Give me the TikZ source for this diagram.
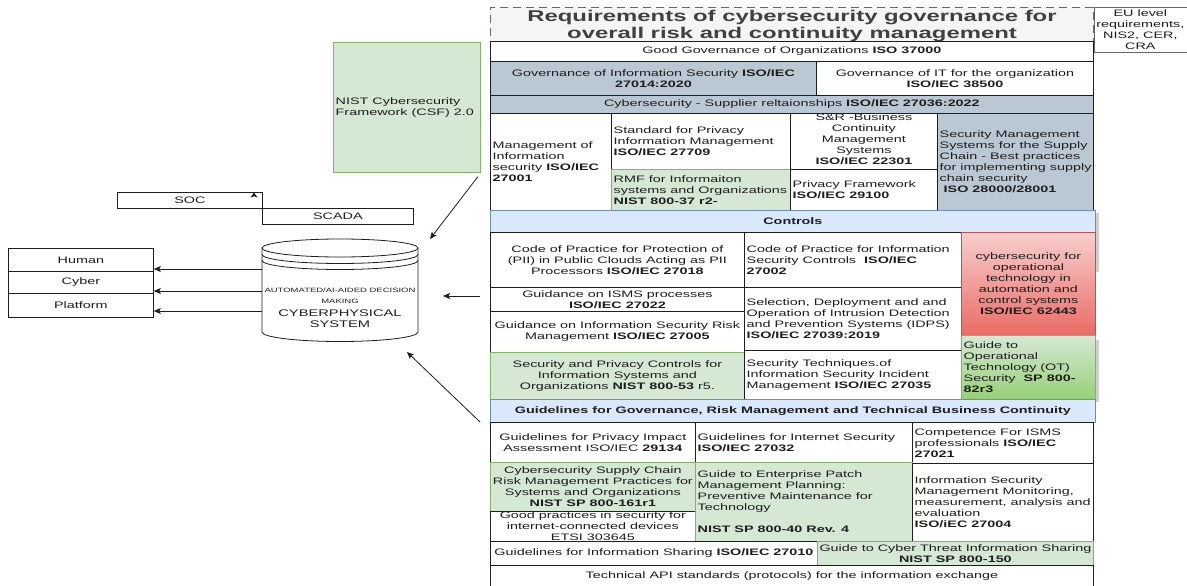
\documentclass[tikz,border=0pt]{standalone}
\usepackage{fontspec}
\setmainfont[FakeStretch=1.53]{Liberation Sans}
\usetikzlibrary{arrows.meta,calc}
\definecolor{gb}{HTML}{BAC8D3}
\definecolor{gr}{HTML}{D5E8D4}
\definecolor{grb}{HTML}{82B366}
\definecolor{lb}{HTML}{DAE8FC}
\definecolor{lbb}{HTML}{6C8EBF}
\definecolor{rdA}{HTML}{F8CECC}
\definecolor{rdB}{HTML}{EA6B66}
\definecolor{rdb}{HTML}{B85450}
\definecolor{grB}{HTML}{97D077}
\definecolor{tg}{HTML}{F5F5F5}
\definecolor{tgb}{HTML}{666666}
\definecolor{ink}{HTML}{1E1E1E}
\definecolor{shd}{HTML}{CFCFCF}
\newcommand\boxat[6]{%
  \pgfmathsetmacro\cw{#5-#3}\pgfmathsetmacro\ch{#6-#4}%
  \node[#2,anchor=north west,minimum width=\cw pt,minimum height=\ch pt,inner sep=0pt] (#1) at (#3,#4) {};}
\newcommand\cellc[8]{\boxat{#1}{#2}{#4}{#5}{#6}{#7}\node[txt,align=center,#3] (#1t) at (#1.center) {#8};}
\newcommand\celll[8]{\boxat{#1}{#2}{#4}{#5}{#6}{#7}\node[txt,align=left,anchor=west,#3] (#1t) at ([xshift=2.5pt]#1.west) {#8};}
\tikzset{
  txt/.style={font=\fontsize{9.4}{11}\selectfont,text=ink,inner sep=0pt},
  bft/.style={font=\fontsize{9.4}{11}\selectfont\bfseries},
  base/.style={line width=0.8pt},
  wc/.style={base,draw=ink,fill=white},
  gbc/.style={base,draw=ink,fill=gb},
  grc/.style={base,draw=grb,fill=gr},
  lbc/.style={base,draw=lbb,fill=lb},
  redc/.style={base,draw=rdb,top color=rdA,bottom color=rdB},
  grgc/.style={base,draw=grb,top color=gr,bottom color=grB},
  arr/.style={draw=ink,line width=0.8pt,-{Stealth[length=7pt,width=6pt,inset=1.5pt]}}
}
\begin{document}
\begin{tikzpicture}[x=1pt,y=-1pt]
\useasboundingbox (0,0) rectangle (1187,586);
\fill[white] (0,0) rectangle (1187,586);
% shadows at right edge
\fill[shd] (1095,213) rectangle (1098.5,272);
\fill[shd] (1095,340) rectangle (1098.5,402);
% title
\node[draw=tgb,dash pattern=on 8pt off 5pt,fill=tg,line width=0.8pt,anchor=north west,minimum width=603pt,minimum height=34pt] (titlebox) at (490,7) {};
\node[text=ink!85,font=\fontsize{15.6}{16.5}\selectfont\bfseries,align=center] (title) at (792,26) {Requirements of cybersecurity governance for\\overall risk and continuity management};
\cellc{eu}{base,draw=tgb}{}{1093.5}{7}{1186.5}{52}{EU level\\requirements,\\NIS2, CER,\\CRA}
% rows
\cellc{gg}{wc}{}{490}{41}{1093}{61}{Good Governance of Organizations \textbf{ISO 37000}}
\cellc{gis}{gbc}{}{490}{61}{816}{95}{Governance of Information Security \textbf{ISO/IEC}\\\textbf{27014:2020}}
\cellc{git}{wc}{}{816}{61}{1093}{95}{Governance of IT for the organization\\\textbf{ISO/IEC 38500}}
\cellc{csr}{gbc}{}{490}{95}{1093}{113}{Cybersecurity - Supplier reltaionships \textbf{ISO/IEC 27036:2022}}
\celll{mis}{wc}{}{490}{113}{611}{210}{Management of\\Information\\security \textbf{ISO/IEC}\\\textbf{27001}}
\celll{spi}{wc}{}{611}{113}{790}{169}{Standard for Privacy\\Information Management\\\textbf{ISO/IEC 27709}}
\celll{rmf}{grc}{}{611}{169}{790}{210}{RMF for Informaiton\\systems and Organizations\\\textbf{NIST 800-37 r2-}}
\cellc{sr}{wc}{yshift=2pt}{790}{113}{937}{169}{S\&R -Business\\Continuity\\Management\\Systems\\\textbf{ISO/IEC 22301}}
\celll{pf}{wc}{}{790}{169}{937}{210}{Privacy Framework\\\textbf{ISO/IEC 29100}}
\celll{sms}{gbc}{}{937}{113}{1093}{210}{Security Management\\Systems for the Supply\\Chain - Best practices\\for implementing supply\\chain security\\\ \textbf{ISO 28000/28001}}
% controls
\cellc{ctl}{lbc}{bft}{490}{210}{1095}{232}{Controls}
\cellc{c18}{wc}{}{490}{232}{744}{287}{Code of Practice for Protection of\\(PII) in Public Clouds Acting as PII\\Processors \textbf{ISO/IEC 27018}}
\cellc{c22}{wc}{}{490}{287}{744}{311}{Guidance on ISMS processes\\\textbf{ISO/IEC 27022}}
\cellc{c05}{wc}{}{490}{311}{744}{352}{Guidance on Information Security Risk\\Management \textbf{ISO/IEC 27005}}
\cellc{c53}{grc}{}{490}{352}{744}{399}{Security and Privacy Controls for\\Information Systems and\\Organizations \textbf{NIST 800-53} r5.}
\celll{c02}{wc}{}{744}{232}{961}{287}{Code of Practice for Information\\Security Controls~ \textbf{ISO/IEC}\\\textbf{27002}}
\celll{c39}{wc}{}{744}{287}{961}{350}{Selection, Deployment and and\\Operation of Intrusion Detection\\and Prevention Systems (IDPS)\\\textbf{ISO/IEC 27039:2019}}
\celll{c35}{wc}{}{744}{350}{961}{399}{Security Techniques.of\\Information Security Incident\\Management \textbf{ISO/IEC 27035}}
\cellc{c62}{redc}{}{961}{232}{1095}{335}{cybersecurity for\\operational\\technology in\\automation and\\control systems\\\textbf{ISO/IEC 62443}}
\celll{c82}{grgc}{}{961}{335}{1095}{399}{Guide to\\Operational\\Technology (OT)\\Security~ \textbf{SP 800-}\\\textbf{82r3}}
% guidelines
\cellc{gdl}{lbc}{bft}{490}{399}{1095}{422}{Guidelines for Governance, Risk Management and Technical Business Continuity}
\cellc{g34}{wc}{}{490}{422}{695}{462}{Guidelines for Privacy Impact\\Assessment ISO/IEC \textbf{29134}}
\celll{g32}{wc}{}{695}{422}{912}{462}{Guidelines for Internet Security\\\textbf{ISO/IEC 27032}}
\celll{g21}{wc}{}{912}{422}{1093}{463}{Competence For ISMS\\professionals \textbf{ISO/IEC}\\\textbf{27021}}
\cellc{g161}{grc}{}{490}{462}{695}{511}{Cybersecurity Supply Chain\\Risk Management Practices for\\Systems and Organizations\\\textbf{NIST SP 800-161r1}}
\cellc{getsi}{wc}{}{490}{511}{695}{541}{Good practices in security for\\internet-connected devices\\ETSI 303645}
\celll{g40}{grc}{}{695}{462}{912}{541}{Guide to Enterprise Patch\\Management Planning:\\Preventive Maintenance for\\Technology\\[11pt]\textbf{NIST SP 800-40 Rev. 4}}
\celll{g04}{wc}{}{912}{463}{1093}{541}{Information Security\\Management Monitoring,\\measurement, analysis and\\evaluation\\\textbf{ISO/iEC 27004}}
\cellc{g10}{wc}{}{490}{541}{817}{565}{Guidelines for Information Sharing \textbf{ISO/IEC 27010}}
\cellc{g150}{grc}{}{817}{541}{1093}{565}{Guide to Cyber Threat Information Sharing\\\textbf{NIST SP 800-150}}
\cellc{api}{wc}{}{490}{565}{1093}{585.5}{Technical API standards (protocols) for the information exchange}
% left side
\celll{nist}{grc}{}{333}{42}{480}{172}{NIST Cybersecurity\\Framework (CSF) 2.0}
\cellc{soc}{wc}{}{117}{192}{262}{208}{SOC}
\cellc{scada}{wc}{}{262}{208}{413}{224}{SCADA}
\fill[ink] (254,192.5) -- (257.5,197.5) -- (254,196.3) -- (250.5,197.5) -- cycle;
\cellc{human}{wc}{}{8}{248}{153}{271}{Human}
\cellc{cyber}{wc}{}{8}{271}{153}{293}{Cyber}
\cellc{platform}{wc}{}{8}{293}{153}{317}{Platform}
% cylinder
\node[anchor=north west,minimum width=156pt,minimum height=103pt,inner sep=0pt] (cps) at (262,239) {};
\draw[ink,line width=0.8pt,fill=white] (262,248) -- (262,332) arc[start angle=180,end angle=360,x radius=78pt,y radius=9.5pt] -- (418,248) arc[start angle=0,end angle=180,x radius=78pt,y radius=9pt] -- cycle;
\draw[ink,line width=0.8pt] (262,248) arc[start angle=180,end angle=360,x radius=78pt,y radius=9pt];
\draw[ink,line width=0.8pt] (262,254.5) arc[start angle=180,end angle=360,x radius=78pt,y radius=9pt];
\draw[ink,line width=0.8pt] (262,260.5) arc[start angle=180,end angle=360,x radius=78pt,y radius=9pt];
\node[text=ink,font=\fontsize{6.2}{10.5}\selectfont,align=center] (cpsa) at (340,296) {AUTOMATED/AI-AIDED DECISION\\MAKING};
\node[text=ink,font=\fontsize{9.6}{11.2}\selectfont,align=center] (cpsb) at (340,318.5) {CYBERPHYSICAL\\SYSTEM};
% connectors
\draw[arr] (cps.west |- 0,269) -- (human.east |- 0,269);
\draw[arr] (cps.west |- 0,291) -- (cyber.east |- 0,291);
\draw[arr] (cps.west |- 0,311) -- (platform.east |- 0,311);
\coordinate (inA) at (480,296);
\coordinate (inB) at (443,296);
\draw[arr] (inA) -- (inB);
\coordinate (nistTip) at (430,239);
\draw[arr] ([xshift=-3pt,yshift=-4pt]nist.south east) -- (nistTip);
\coordinate (gdA) at (480,422);
\coordinate (gdB) at (407,352);
\draw[arr] (gdA) -- (gdB);
\end{tikzpicture}
\end{document}
